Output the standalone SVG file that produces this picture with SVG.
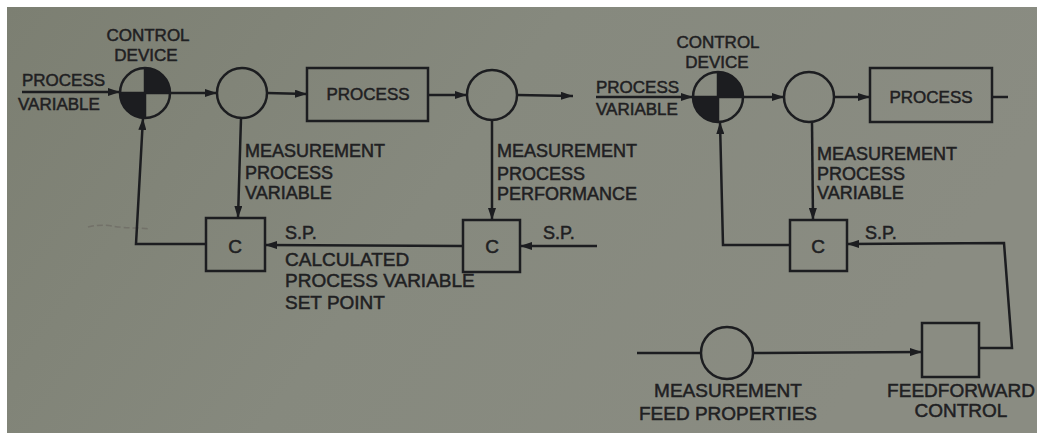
<svg xmlns="http://www.w3.org/2000/svg" width="1037" height="433" viewBox="0 0 1037 433">
<defs>
<linearGradient id="bg" x1="0" y1="0" x2="1" y2="0.3">
<stop offset="0" stop-color="#7c7f72"/>
<stop offset="0.5" stop-color="#86897e"/>
<stop offset="1" stop-color="#8a8c82"/>
</linearGradient>
<marker id="ah" viewBox="0 0 12 8" refX="12" refY="4" markerWidth="12" markerHeight="8" markerUnits="userSpaceOnUse" orient="auto">
<path d="M0,0 L12,4 L0,8 Z" fill="#1c1d20"/>
</marker>
<style>
.ln{fill:none;stroke:#1c1d20;stroke-width:2.5;stroke-linejoin:miter}
.ar{fill:none;stroke:#1c1d20;stroke-width:2.5;marker-end:url(#ah)}
.sh{fill:none;stroke:#1c1d20;stroke-width:2.5}
.fl{fill:#1c1d20;stroke:none}
text{font-family:"Liberation Sans",Arial,sans-serif;fill:#1f2022;stroke:#1f2022;stroke-width:0.5}
.t17{font-size:17px}
.t18{font-size:18px}
.t19{font-size:19px}
.mid{text-anchor:middle}
</style>
</defs>
<rect x="0" y="0" width="1037" height="433" fill="#ffffff"/>
<rect x="7" y="7" width="1030" height="426" fill="url(#bg)"/>
<path d="M88,227 Q100,224 112,226 T140,228 L150,229" fill="none" stroke="#6c6a62" stroke-width="1.5" stroke-dasharray="6 3" opacity="0.7"/>

<g id="connectors">
<line class="ar" x1="22" y1="92" x2="120" y2="92"/>
<line class="ar" x1="170" y1="93" x2="217" y2="93"/>
<line class="ar" x1="267" y1="93" x2="307" y2="94"/>
<line class="ar" x1="428" y1="95" x2="467" y2="95"/>
<line class="ar" x1="517" y1="95" x2="573" y2="96"/>
<line class="ar" x1="241" y1="118" x2="238" y2="218"/>
<line class="ar" x1="492" y1="120" x2="492" y2="220"/>
<line class="ar" x1="597" y1="246" x2="520" y2="246"/>
<line class="ar" x1="463" y1="246" x2="265" y2="245"/>
<polyline class="ar" points="206,244 136,244 143,118"/>

<line class="ar" x1="596" y1="97" x2="693" y2="97"/>
<line class="ar" x1="743" y1="97" x2="784" y2="97"/>
<line class="ar" x1="834" y1="97" x2="870" y2="97"/>
<line class="ln" x1="992" y1="97" x2="1008" y2="97"/>
<line class="ar" x1="812" y1="122" x2="813" y2="220"/>
<polyline class="ar" points="790,245 723,245 720,122"/>
<polyline class="ar" points="980,348 1012,348 1004,243 847,244"/>
<line class="ln" x1="637" y1="353" x2="701" y2="353"/>
<line class="ar" x1="753" y1="353" x2="922" y2="352"/>
</g>

<g id="control-device-1">
<circle class="sh" cx="145" cy="93" r="25"/>
<path class="fl" d="M145,93 L145,68 A25,25 0 0 1 170,93 Z"/>
<path class="fl" d="M145,93 L145,118 A25,25 0 0 1 120,93 Z"/>
<line class="ln" x1="145" y1="68" x2="145" y2="118"/>
<line class="ln" x1="120" y1="93" x2="170" y2="93"/>
<text class="t17 mid" x="148" y="41">CONTROL</text>
<text class="t17 mid" x="146" y="61">DEVICE</text>
</g>
<g id="pv-label-1">
<text class="t17" x="22" y="86">PROCESS</text>
<text class="t17" x="18" y="110">VARIABLE</text>
</g>
<g id="measure-1"><circle class="sh" cx="242" cy="93" r="25"/></g>
<g id="process-1">
<rect class="sh" x="307" y="68" width="121" height="53"/>
<text class="t17 mid" x="368" y="100">PROCESS</text>
</g>
<g id="measure-2"><circle class="sh" cx="492" cy="95" r="25"/></g>
<g id="label-mpv-1">
<text class="t18" x="245" y="157">MEASUREMENT</text>
<text class="t18" x="245" y="179">PROCESS</text>
<text class="t18" x="245" y="199">VARIABLE</text>
</g>
<g id="label-mpp">
<text class="t18" x="497" y="157">MEASUREMENT</text>
<text class="t18" x="497" y="180">PROCESS</text>
<text class="t18" x="497" y="200">PERFORMANCE</text>
</g>
<g id="c-1">
<rect class="sh" x="206" y="218" width="59" height="53"/>
<text class="t19 mid" x="235" y="253">C</text>
</g>
<g id="c-2">
<rect class="sh" x="463" y="220" width="57" height="52"/>
<text class="t19 mid" x="492" y="253">C</text>
<text class="t18" x="543" y="239">S.P.</text>
</g>
<g id="label-sp-calc">
<text class="t18" x="285" y="239">S.P.</text>
<text class="t19" x="285" y="266">CALCULATED</text>
<text class="t19" x="285" y="287">PROCESS VARIABLE</text>
<text class="t19" x="285" y="309">SET POINT</text>
</g>

<g id="control-device-2">
<circle class="sh" cx="718" cy="97" r="25"/>
<path class="fl" d="M718,97 L718,72 A25,25 0 0 1 743,97 Z"/>
<path class="fl" d="M718,97 L718,122 A25,25 0 0 1 693,97 Z"/>
<line class="ln" x1="718" y1="72" x2="718" y2="122"/>
<line class="ln" x1="693" y1="97" x2="743" y2="97"/>
<text class="t17 mid" x="718" y="48">CONTROL</text>
<text class="t17 mid" x="717" y="68">DEVICE</text>
</g>
<g id="pv-label-2">
<text class="t17" x="596" y="93">PROCESS</text>
<text class="t17" x="596" y="115">VARIABLE</text>
</g>
<g id="measure-3"><circle class="sh" cx="809" cy="97" r="25"/></g>
<g id="process-2">
<rect class="sh" x="870" y="68" width="122" height="54"/>
<text class="t17 mid" x="931" y="103">PROCESS</text>
</g>
<g id="label-mpv-2">
<text class="t18" x="817" y="160">MEASUREMENT</text>
<text class="t18" x="817" y="180">PROCESS</text>
<text class="t18" x="817" y="199">VARIABLE</text>
</g>
<g id="c-3">
<rect class="sh" x="790" y="220" width="57" height="51"/>
<text class="t19 mid" x="818" y="253">C</text>
<text class="t18" x="865" y="239">S.P.</text>
</g>
<g id="measure-feed">
<circle class="sh" cx="727" cy="353" r="26"/>
<text class="t19 mid" x="728" y="397">MEASUREMENT</text>
<text class="t19 mid" x="728" y="420">FEED PROPERTIES</text>
</g>
<g id="feedforward">
<rect class="sh" x="922" y="323" width="57" height="54"/>
<text class="t19 mid" x="961" y="397">FEEDFORWARD</text>
<text class="t19 mid" x="961" y="417">CONTROL</text>
</g>
</svg>
